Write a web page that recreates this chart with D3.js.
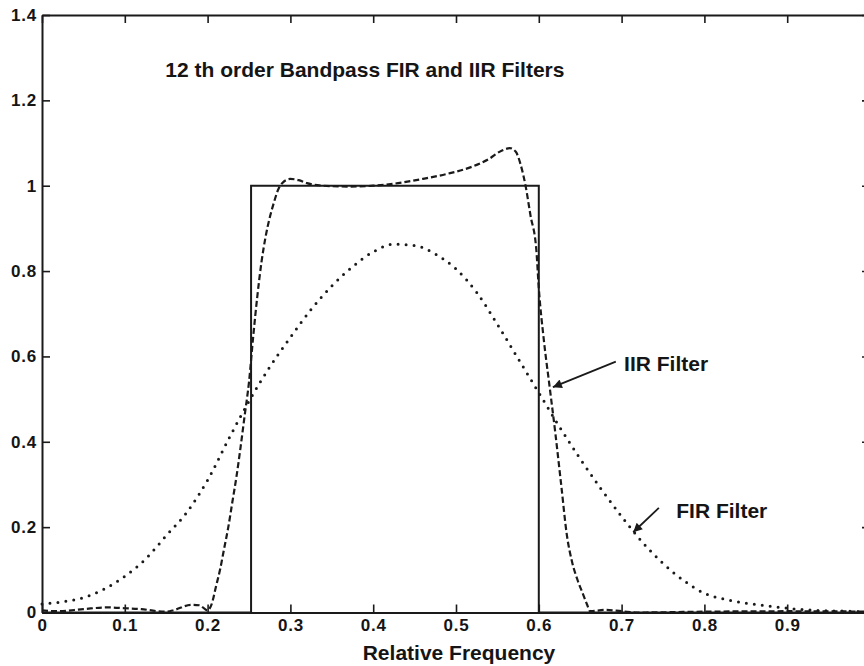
<!DOCTYPE html>
<html>
<head>
<meta charset="utf-8">
<script src="https://cdn.jsdelivr.net/npm/d3@7/dist/d3.min.js"></script>
<style>
  html, body { margin: 0; padding: 0; background: #fff; }
  svg { display: block; }
  text { font-family: "Liberation Sans", Arial, Helvetica, sans-serif; font-weight: bold; fill: #151515; }
</style>
</head>
<body>
<svg id="chart" width="864" height="666"></svg>
<script>
// ---------- data ----------
const xTicks = [0, 0.1, 0.2, 0.3, 0.4, 0.5, 0.6, 0.7, 0.8, 0.9, 1];
const xTickLabels = ["0", "0.1", "0.2", "0.3", "0.4", "0.5", "0.6", "0.7", "0.8", "0.9", ""];
const yTicks = [0, 0.2, 0.4, 0.6, 0.8, 1, 1.2, 1.4];
const yTickLabels = ["0", "0.2", "0.4", "0.6", "0.8", "1", "1.2", "1.4"];

// ideal bandpass response
const idealFreq = [0, 0.2525, 0.2525, 0.6, 0.6, 1];
const idealMag  = [0, 0, 1, 1, 0, 0];

// FIR filter (dotted)
const firFreq = [0, 0.025, 0.05, 0.075, 0.1, 0.125, 0.15, 0.175, 0.2, 0.225, 0.25, 0.275, 0.3, 0.325, 0.35, 0.375, 0.4, 0.425, 0.45, 0.475, 0.5, 0.525, 0.55, 0.575, 0.6, 0.625, 0.65, 0.675, 0.7, 0.725, 0.75, 0.775, 0.8, 0.825, 0.85, 0.875, 0.9, 0.925, 0.95, 0.975, 1];
const firMag  = [0.02, 0.025, 0.035, 0.055, 0.085, 0.125, 0.18, 0.235, 0.31, 0.405, 0.495, 0.575, 0.645, 0.71, 0.765, 0.81, 0.845, 0.863, 0.86, 0.84, 0.805, 0.75, 0.675, 0.595, 0.515, 0.435, 0.36, 0.29, 0.225, 0.165, 0.115, 0.075, 0.045, 0.031, 0.022, 0.016, 0.01, 0.006, 0.004, 0.003, 0.002];

// IIR filter (dashed)
const iirFreq = [0, 0.02, 0.05, 0.08, 0.1, 0.12, 0.14, 0.15, 0.16, 0.18, 0.19, 0.2, 0.205, 0.21, 0.215, 0.22, 0.225, 0.23, 0.235, 0.24, 0.245, 0.25, 0.255, 0.26, 0.265, 0.27, 0.275, 0.28, 0.285, 0.29, 0.3, 0.31, 0.32, 0.34, 0.37, 0.4, 0.43, 0.46, 0.49, 0.52, 0.54, 0.555, 0.565, 0.572, 0.578, 0.584, 0.59, 0.597, 0.6, 0.606, 0.613, 0.62, 0.627, 0.634, 0.64, 0.647, 0.653, 0.658, 0.662, 0.68, 0.7, 0.72, 0.8, 0.9, 1];
const iirMag  = [0.005, 0.003, 0.008, 0.012, 0.01, 0.008, 0.003, 0.002, 0.006, 0.018, 0.017, 0.005, 0.02, 0.06, 0.1, 0.15, 0.2, 0.26, 0.32, 0.39, 0.465, 0.54, 0.645, 0.74, 0.82, 0.88, 0.925, 0.96, 0.99, 1.006, 1.016, 1.013, 1.006, 1.0, 0.998, 1.0, 1.006, 1.016, 1.028, 1.045, 1.063, 1.082, 1.088, 1.08, 1.05, 1.0, 0.93, 0.85, 0.76, 0.64, 0.53, 0.42, 0.3, 0.18, 0.12, 0.075, 0.045, 0.02, 0.003, 0.006, 0.003, 0.0, 0.002, 0.003, 0.002];

const titleText = "12 th order Bandpass FIR and IIR Filters";
const xLabel = "Relative Frequency";
const annotations = [
  { label: "IIR Filter", textAt: [0.703, 0.567], from: [0.693, 0.588], to: [0.617, 0.528] },
  { label: "FIR Filter", textAt: [0.766, 0.222], from: [0.745, 0.245], to: [0.714, 0.188] }
];
const titleAt = [0.149, 1.255];

// ---------- drawing ----------
const svg = d3.select("#chart");
const ink = "#1a1a1a";
const x = d3.scaleLinear().domain([0, 1]).range([42, 870]);
const y = d3.scaleLinear().domain([0, 1.4]).range([612.5, 15]);

const line = d3.line().x(d => x(d[0])).y(d => y(d[1]));
const smooth = d3.line().x(d => x(d[0])).y(d => y(d[1])).curve(d3.curveMonotoneX);

// curves
svg.append("path")
  .attr("d", smooth(firFreq.map((f, i) => [f, firMag[i]])))
  .attr("fill", "none").attr("stroke", ink).attr("stroke-width", 3)
  .attr("stroke-linecap", "round").attr("stroke-dasharray", "0,8");

svg.append("path")
  .attr("d", smooth(iirFreq.map((f, i) => [f, iirMag[i]])))
  .attr("fill", "none").attr("stroke", ink).attr("stroke-width", 2.2)
  .attr("stroke-dasharray", "6,3");

svg.append("path")
  .attr("d", line(idealFreq.map((f, i) => [f, idealMag[i]])))
  .attr("fill", "none").attr("stroke", ink).attr("stroke-width", 2);

// axes
const styleAxis = g => {
  g.select(".domain").attr("stroke", ink).attr("stroke-width", 2);
  g.selectAll(".tick line").attr("stroke", ink).attr("stroke-width", 1.6);
  g.selectAll(".tick text").attr("fill", ink).style("font-size", "17px")
    .style("font-weight", "bold").style("letter-spacing", "0.8px");
};

svg.append("g").attr("transform", `translate(0,${y(0)})`)
  .call(d3.axisBottom(x).tickValues(xTicks).tickFormat((d, i) => xTickLabels[i]).tickSizeInner(-8).tickSizeOuter(0).tickPadding(6))
  .call(styleAxis);
svg.append("g").attr("transform", `translate(0,${y(1.4)})`)
  .call(d3.axisTop(x).tickValues(xTicks).tickFormat("").tickSizeInner(-8).tickSizeOuter(0))
  .call(styleAxis);
svg.append("g").attr("transform", `translate(${x(0)},0)`)
  .call(d3.axisLeft(y).tickValues(yTicks).tickFormat((d, i) => yTickLabels[i]).tickSizeInner(-8).tickSizeOuter(0).tickPadding(5))
  .call(styleAxis);
svg.append("g").attr("transform", `translate(${x(1)},0)`)
  .call(d3.axisRight(y).tickValues(yTicks).tickFormat("").tickSizeInner(-8).tickSizeOuter(0))
  .call(styleAxis);

// texts
svg.append("text").attr("x", x(titleAt[0])).attr("y", y(titleAt[1]))
  .style("font-size", "21px").text(titleText);
svg.append("text").attr("x", 459).attr("y", 660)
  .attr("text-anchor", "middle").style("font-size", "21px").text(xLabel);

// annotations with arrows
svg.append("defs").append("marker")
  .attr("id", "arrow").attr("viewBox", "0 0 10 10").attr("refX", 10).attr("refY", 5)
  .attr("markerWidth", 12).attr("markerHeight", 9).attr("markerUnits", "userSpaceOnUse")
  .attr("orient", "auto")
  .append("path").attr("d", "M0,0 L10,5 L0,10 Z").attr("fill", ink);

annotations.forEach(a => {
  svg.append("text").attr("x", x(a.textAt[0])).attr("y", y(a.textAt[1]))
    .style("font-size", "21px").text(a.label);
  svg.append("line")
    .attr("x1", x(a.from[0])).attr("y1", y(a.from[1]))
    .attr("x2", x(a.to[0])).attr("y2", y(a.to[1]))
    .attr("stroke", ink).attr("stroke-width", 1.8)
    .attr("marker-end", "url(#arrow)");
});
</script>
</body>
</html>
